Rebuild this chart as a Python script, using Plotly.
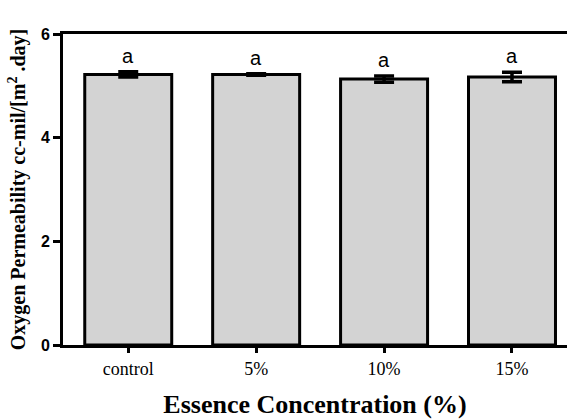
import plotly.graph_objects as go

categories = ["control", "5%", "10%", "15%"]
values = [5.22, 5.22, 5.13, 5.17]
errors = [0.05, 0.015, 0.06, 0.09]
letters = ["a", "a", "a", "a"]
yticks = [0, 2, 4, 6]

fig = go.Figure()
fig.add_trace(go.Bar(
    x=list(range(len(categories))), y=values,
    width=0.68,
    marker=dict(color="#d3d3d3", line=dict(color="black", width=3)),
    error_y=dict(type="data", array=errors, visible=True, color="black", thickness=3.5, width=10),
))
for i, (v, e, l) in enumerate(zip(values, errors, letters)):
    fig.add_annotation(x=i, y=v + e, text=l, showarrow=False, yanchor="bottom", yshift=3,
                       font=dict(family="Arial, Liberation Sans", size=20, color="black"))

fig.update_layout(
    width=567, height=419,
    margin=dict(l=63, r=0, t=34, b=74),
    paper_bgcolor="white", plot_bgcolor="white",
    showlegend=False,
    xaxis=dict(
        range=[-0.51, 3.43], tickmode="array", tickvals=list(range(len(categories))), ticktext=categories,
        showline=True, linecolor="black", linewidth=3, mirror=True,
        ticks="outside", ticklen=5, tickwidth=3, tickcolor="black",
        showgrid=False, zeroline=False,
        tickfont=dict(family="Liberation Serif, Times New Roman", size=18, color="black"),
        title=dict(text="<b>Essence Concentration (%)</b>", standoff=18,
                   font=dict(family="Liberation Serif, Times New Roman", size=26, color="black")),
    ),
    yaxis=dict(
        range=[0, 6], tickvals=yticks,
        showline=True, linecolor="black", linewidth=3,
        ticks="outside", ticklen=7, tickwidth=3, tickcolor="black",
        showgrid=False, zeroline=False,
        tickfont=dict(family="Liberation Sans", size=16, color="black", weight=700),
        title=dict(text="<b>Oxygen Permeability cc-mil/[m<sup>2</sup> .day]</b>", standoff=10,
                   font=dict(family="Liberation Serif, Times New Roman", size=20, color="black")),
    ),
)
fig.write_html("out.html", config={"displayModeBar": False},
               post_script="document.body.style.margin='0';")
